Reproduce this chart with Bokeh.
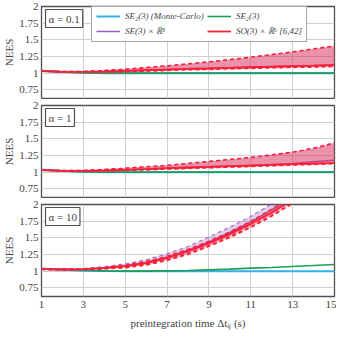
from bokeh.plotting import figure
from bokeh.layouts import column
from bokeh.models import Label, FixedTicker, Legend, LegendItem
from bokeh.embed import file_html
from bokeh.resources import INLINE

# ---- data -------------------------------------------------------------
t = [1, 2, 3, 4, 5, 6, 7, 8, 9, 10, 11, 12, 13, 14, 15]
x_ticks = [1, 3, 5, 7, 9, 11, 13, 15]
y_ticks = [0.75, 1, 1.25, 1.5, 1.75, 2]
y_tick_labels = ["0.75", "1", "1.25", "1.5", "1.75", "2"]
panel_titles = ["α = 0.1", "α = 1", "α = 10"]
series_names = ["SE₂(3) (Monte-Carlo)", "SE₂(3)", "SE(3) × ℝ³", "SO(3) × ℝ⁶ [6,42]"]

# alpha = 0.1
mc_a01 = [1.035, 1.018, 1.005, 1.0, 1.0, 1.0, 1.0, 1.0, 1.0, 1.0, 1.0, 1.0, 1.0, 1.0, 1.0]
se23_a01 = [1.04, 1.02, 1.005, 1.0, 1.0, 1.0, 1.0, 1.0, 1.0, 1.0, 1.0, 1.0, 1.0, 1.0, 1.0]
se3_mean_a01 = [1.03, 1.02, 1.02, 1.025, 1.035, 1.045, 1.055, 1.065, 1.072, 1.082, 1.092, 1.1, 1.108, 1.116, 1.125]
se3_low_a01 = [1.03, 1.02, 1.017, 1.018, 1.024, 1.033, 1.043, 1.052, 1.058, 1.068, 1.074, 1.083, 1.088, 1.094, 1.105]
se3_up_a01 = [1.03, 1.025, 1.026, 1.04, 1.06, 1.084, 1.108, 1.138, 1.168, 1.2, 1.236, 1.275, 1.315, 1.36, 1.40]
so3_mean_a01 = [1.03, 1.02, 1.02, 1.025, 1.034, 1.044, 1.054, 1.063, 1.07, 1.08, 1.089, 1.096, 1.105, 1.112, 1.12]
so3_low_a01 = [1.03, 1.02, 1.015, 1.015, 1.02, 1.03, 1.04, 1.05, 1.055, 1.065, 1.07, 1.08, 1.085, 1.09, 1.10]
so3_up_a01 = [1.03, 1.025, 1.025, 1.04, 1.06, 1.085, 1.11, 1.14, 1.17, 1.205, 1.24, 1.28, 1.32, 1.365, 1.41]

# alpha = 1
mc_a1 = [1.035, 1.018, 1.005, 1.0, 1.0, 1.0, 1.0, 1.0, 1.0, 1.0, 1.0, 1.0, 1.0, 1.0, 1.0]
se23_a1 = [1.04, 1.02, 1.005, 1.0, 1.0, 1.0, 1.0, 1.0, 1.0, 1.0, 1.0, 1.0, 1.0, 1.0, 1.0]
se3_mean_a1 = [1.03, 1.02, 1.02, 1.026, 1.036, 1.047, 1.06, 1.07, 1.08, 1.09, 1.1, 1.115, 1.13, 1.155, 1.18]
se3_low_a1 = [1.03, 1.02, 1.016, 1.017, 1.026, 1.036, 1.047, 1.057, 1.067, 1.078, 1.088, 1.099, 1.11, 1.122, 1.135]
se3_up_a1 = [1.03, 1.025, 1.026, 1.041, 1.061, 1.082, 1.104, 1.133, 1.162, 1.192, 1.222, 1.26, 1.3, 1.355, 1.43]
so3_mean_a1 = [1.03, 1.02, 1.02, 1.025, 1.035, 1.045, 1.06, 1.07, 1.08, 1.09, 1.1, 1.11, 1.12, 1.13, 1.135]
so3_low_a1 = [1.03, 1.02, 1.015, 1.015, 1.025, 1.035, 1.045, 1.055, 1.065, 1.075, 1.085, 1.095, 1.105, 1.115, 1.125]
so3_up_a1 = [1.03, 1.025, 1.025, 1.04, 1.06, 1.08, 1.10, 1.13, 1.16, 1.19, 1.22, 1.26, 1.30, 1.36, 1.44]

# alpha = 10
mc_a10 = [1.035, 1.02, 1.008, 1.002, 1.0, 1.0, 1.0, 1.0, 1.0, 1.0, 1.0, 1.0, 1.0, 1.0, 1.0]
se23_a10 = [1.04, 1.03, 1.015, 1.005, 1.0, 1.0, 1.005, 1.01, 1.02, 1.03, 1.045, 1.055, 1.07, 1.085, 1.10]
se3_mean_a10 = [1.03, 1.025, 1.03, 1.05, 1.08, 1.13, 1.21, 1.31, 1.44, 1.58, 1.74, 1.92, 2.12, 2.33, 2.56]
se3_low_a10 = [1.03, 1.025, 1.028, 1.043, 1.068, 1.112, 1.188, 1.28, 1.40, 1.54, 1.70, 1.87, 2.07, 2.28, 2.5]
se3_up_a10 = [1.03, 1.03, 1.038, 1.065, 1.11, 1.17, 1.26, 1.37, 1.51, 1.66, 1.82, 2.01, 2.22, 2.44, 2.68]
so3_mean_a10 = [1.03, 1.025, 1.03, 1.045, 1.075, 1.12, 1.2, 1.30, 1.42, 1.56, 1.71, 1.88, 2.08, 2.29, 2.52]
so3_low_a10 = [1.03, 1.02, 1.025, 1.035, 1.055, 1.095, 1.165, 1.255, 1.375, 1.51, 1.66, 1.83, 2.02, 2.23, 2.46]
so3_up_a10 = [1.03, 1.03, 1.035, 1.055, 1.09, 1.145, 1.225, 1.33, 1.45, 1.59, 1.75, 1.93, 2.13, 2.34, 2.58]

panels = [
    (mc_a01, se23_a01, se3_mean_a01, se3_low_a01, se3_up_a01, so3_mean_a01, so3_low_a01, so3_up_a01),
    (mc_a1, se23_a1, se3_mean_a1, se3_low_a1, se3_up_a1, so3_mean_a1, so3_low_a1, so3_up_a1),
    (mc_a10, se23_a10, se3_mean_a10, se3_low_a10, se3_up_a10, so3_mean_a10, so3_low_a10, so3_up_a10),
]

# ---- style ------------------------------------------------------------
CYAN = "#33b0e6"
GREEN = "#1e9e5a"
PURPLE = "#9b5cb8"
RED = "#ff1f35"
FONT = "Liberation Serif"
FRAME_W = 293
FRAME_H = 92

figs = []
for i, (mc, se23, se3m, se3l, se3u, so3m, so3l, so3u) in enumerate(panels):
    last = i == len(panels) - 1
    p = figure(
        output_backend="svg", toolbar_location=None,
        frame_width=FRAME_W, frame_height=FRAME_H,
        x_range=(1, 15), y_range=(0.62, 2.0),
        min_border_left=37, min_border_right=2,
        min_border_top=6, min_border_bottom=33 if last else 1,
        background_fill_color="white", border_fill_color="white",
    )
    p.outline_line_color = "#505050"
    p.outline_line_width = 1.3

    # grids
    p.xgrid.ticker = FixedTicker(ticks=x_ticks)
    p.ygrid.ticker = FixedTicker(ticks=y_ticks)
    for g in (p.xgrid, p.ygrid):
        g.grid_line_color = "#cfcfcf"
        g.grid_line_width = 1

    # y axis
    ya = p.yaxis[0]
    ya.ticker = FixedTicker(ticks=y_ticks)
    ya.major_label_overrides = {v: s for v, s in zip(y_ticks, y_tick_labels)}
    ya.axis_label = "NEES"
    ya.axis_label_text_font = FONT
    ya.axis_label_text_font_style = "normal"
    ya.axis_label_text_font_size = "11px"
    ya.axis_label_standoff = 1
    ya.major_label_text_font = FONT
    ya.major_label_text_font_size = "11px"
    ya.major_label_standoff = 3
    ya.major_tick_in = 0
    ya.major_tick_out = 0
    ya.minor_tick_in = 0
    ya.minor_tick_out = 0
    ya.axis_line_color = None

    xa = p.xaxis[0]
    if last:
        xa.ticker = FixedTicker(ticks=x_ticks)
        xa.axis_label = "preintegration time Δtᵢⱼ (s)"
        xa.axis_label_text_font = FONT
        xa.axis_label_text_font_style = "normal"
        xa.axis_label_text_font_size = "11px"
        xa.axis_label_standoff = 6
        xa.major_label_text_font = FONT
        xa.major_label_text_font_size = "11px"
        xa.major_label_standoff = 4
        xa.major_tick_in = 0
        xa.major_tick_out = 0
        xa.minor_tick_in = 0
        xa.minor_tick_out = 0
        xa.axis_line_color = None
    else:
        xa.visible = False

    # series
    r_mc = p.line(t, mc, line_color=CYAN, line_width=2)
    r_se23 = p.line(t, se23, line_color=GREEN, line_width=1.6)

    p.varea(x=t, y1=se3l, y2=se3u, fill_color=PURPLE, fill_alpha=0.3)
    p.line(t, se3l, line_color=PURPLE, line_width=1.3, line_dash="4 3", line_alpha=0.8)
    p.line(t, se3u, line_color=PURPLE, line_width=1.3, line_dash="4 3", line_alpha=0.8)
    r_se3 = p.line(t, se3m, line_color=PURPLE, line_width=1.5)

    p.varea(x=t, y1=so3l, y2=so3u, fill_color=RED, fill_alpha=0.35)
    ew = 2.0 if last else 1.4
    p.line(t, so3l, line_color=RED, line_width=ew, line_dash="4 3")
    p.line(t, so3u, line_color=RED, line_width=1.4, line_dash="4 3")
    r_so3 = p.line(t, so3m, line_color=RED, line_width=1.8)

    lab = Label(
        x=4, y=FRAME_H - 3, x_units="screen", y_units="screen",
        text=panel_titles[i], text_font=FONT, text_font_size="11px",
        text_baseline="top", text_align="left",
        padding=3, border_line_color="#505050", border_line_width=1.2,
        background_fill_color="white",
    )
    p.add_layout(lab)

    if i == 0:
        legend = Legend(
            items=[
                LegendItem(label=series_names[0], renderers=[r_mc]),
                LegendItem(label=series_names[1], renderers=[r_se23]),
                LegendItem(label=series_names[2], renderers=[r_se3]),
                LegendItem(label=series_names[3], renderers=[r_so3]),
            ],
            orientation="horizontal", ncols=2,
            location=(50, 56),
            label_text_font=FONT, label_text_font_size="9px",
            label_text_font_style="italic",
            glyph_width=24, glyph_height=10, label_standoff=5,
            label_height=10,
            spacing=3, padding=4, margin=0,
            border_line_color="#505050", border_line_width=1.2,
            background_fill_color="white", background_fill_alpha=1.0,
        )
        p.add_layout(legend)
    figs.append(p)

layout = column(*figs, spacing=0)
open("out.html", "w").write(file_html(layout, INLINE))
